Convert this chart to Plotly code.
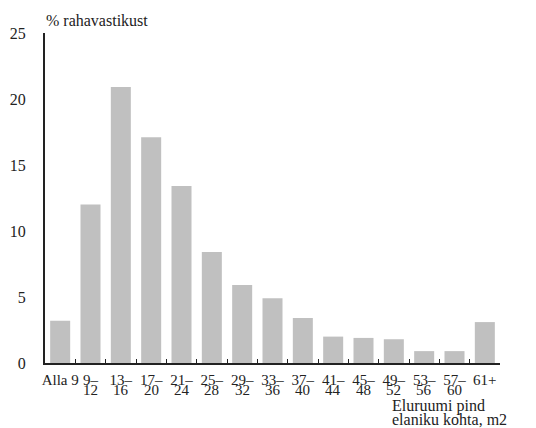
import plotly.graph_objects as go

categories = ["Alla 9", "9–12", "13–16", "17–20", "21–24", "25–28", "29–32", "33–36",
              "37–40", "41–44", "45–48", "49–52", "53–56", "57–60", "61+"]
line1 = ["Alla 9", "9–", "13–", "17–", "21–", "25–", "29–", "33–",
         "37–", "41–", "45–", "49–", "53–", "57–", "61+"]
line2 = ["", "12", "16", "20", "24", "28", "32", "36",
         "40", "44", "48", "52", "56", "60", ""]
values = [3.2, 12.0, 20.9, 17.1, 13.4, 8.4, 5.9, 4.9, 3.4, 2.0, 1.9, 1.8, 0.9, 0.9, 3.1]
y_ticks = [0, 5, 10, 15, 20, 25]

FONT = "Liberation Serif"
TXT = "#222222"

fig = go.Figure(go.Bar(x=categories, y=values, marker_color="#c0c0c0",
                       marker_line_width=0, width=0.66))

annotations = []
for c, t in zip(categories, line2):
    if t:
        annotations.append(dict(x=c, xref="x", y=0, yref="paper", yshift=-27,
                                text=t, showarrow=False, yanchor="middle",
                                font=dict(family=FONT, size=15, color=TXT)))
annotations.append(dict(x=0, xref="paper", xshift=-1, y=1, yref="paper", yshift=13,
                        text="% rahavastikust", showarrow=False, xanchor="left",
                        yanchor="middle", font=dict(family=FONT, size=16, color=TXT)))
annotations.append(dict(x=1, xref="paper", xshift=-110, y=0, yref="paper", yshift=-43,
                        text="Eluruumi pind", showarrow=False, xanchor="left",
                        yanchor="middle", font=dict(family=FONT, size=16, color=TXT)))
annotations.append(dict(x=1, xref="paper", xshift=-110, y=0, yref="paper", yshift=-56,
                        text="elaniku kohta, m2", showarrow=False, xanchor="left",
                        yanchor="middle", font=dict(family=FONT, size=16, color=TXT)))

fig.update_layout(
    width=528, height=420,
    margin=dict(l=37, r=36, t=25, b=65),
    plot_bgcolor="white", paper_bgcolor="white",
    showlegend=False,
    font=dict(family=FONT, size=15, color=TXT),
    annotations=annotations,
    bargap=0.34,
)
fig.update_xaxes(
    tickmode="array", tickvals=categories, ticktext=line1,
    tickson="boundaries", ticks="inside", ticklen=4, tickwidth=1, tickcolor="#222",
    showline=True, linecolor="#222", linewidth=2, showgrid=False,
    range=[-0.5, 14.5], tickangle=0, automargin=False, ticklabelstandoff=2,
    tickfont=dict(family=FONT, size=15, color=TXT),
)
fig.update_yaxes(
    range=[0, 25], tickvals=y_ticks, ticks="outside", ticklen=14,
    tickcolor="rgba(0,0,0,0)", showline=True, linecolor="#222", linewidth=2,
    showgrid=False, zeroline=False, automargin=False,
    tickfont=dict(family=FONT, size=16, color=TXT),
)

fig.write_html("out.html")
